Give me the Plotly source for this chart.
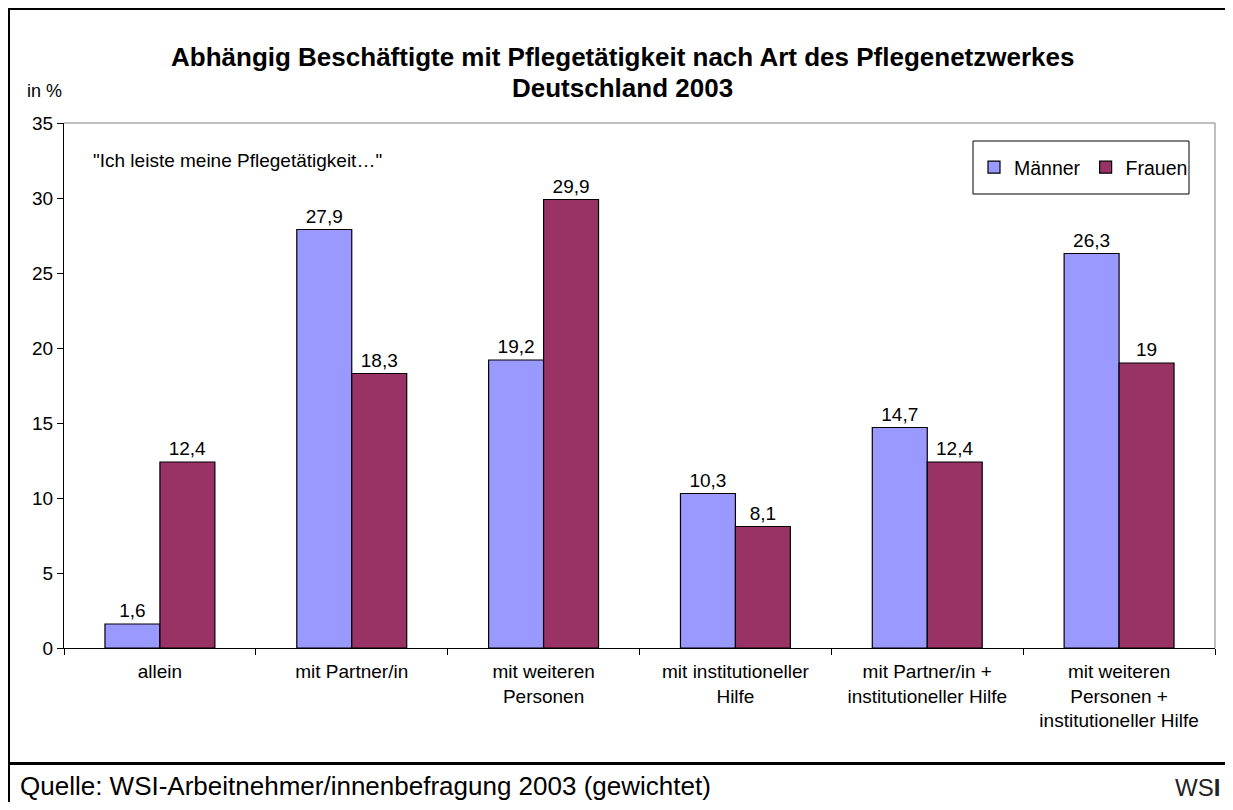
import plotly.graph_objects as go

categories = ["allein", "mit Partner/in", "mit weiteren<br>Personen", "mit institutioneller<br>Hilfe",
              "mit Partner/in +<br>institutioneller Hilfe", "mit weiteren<br>Personen +<br>institutioneller Hilfe"]
maenner = [1.6, 27.9, 19.2, 10.3, 14.7, 26.3]
frauen = [12.4, 18.3, 29.9, 8.1, 12.4, 19.0]
y_ticks = [0, 5, 10, 15, 20, 25, 30, 35]

# page coordinates (browser adds an 8px body margin)
OFF = 8
W, H = 1233 - 2 * OFF, 810 - 2 * OFF
L, R, T, B = 64, 1215, 123, 648
PW, PH = R - L, B - T

def px(X):
    return (X - L) / PW

def py(Y):
    return (B - Y) / PH

def fmt(v):
    return f"{v:g}".replace(".", ",")

FONT = "Liberation Sans, Arial, sans-serif"

fig = go.Figure()
fig.add_trace(go.Bar(name="Männer", x=categories, y=maenner, text=[fmt(v) for v in maenner],
                     textposition="outside", cliponaxis=False,
                     marker=dict(color="#9999FF", line=dict(color="black", width=1.2))))
fig.add_trace(go.Bar(name="Frauen", x=categories, y=frauen, text=[fmt(v) for v in frauen],
                     textposition="outside", cliponaxis=False,
                     marker=dict(color="#993366", line=dict(color="black", width=1.2))))

fig.update_traces(textfont=dict(size=19, color="black", family=FONT))

fig.update_layout(
    width=W, height=H,
    margin=dict(l=L - OFF, r=(W + OFF) - R, t=T - OFF, b=(H + OFF) - B, pad=0),
    paper_bgcolor="white", plot_bgcolor="white",
    font=dict(family=FONT, color="black"),
    barmode="group", bargap=0.427, bargroupgap=0,
    showlegend=True,
    legend=dict(orientation="h", x=px(974), y=py(167.5), xanchor="left", yanchor="middle",
                borderwidth=0, bgcolor="rgba(0,0,0,0)",
                font=dict(size=19.5, color="black"), itemwidth=30, tracegroupgap=0),
    xaxis=dict(showgrid=False, showline=True, linecolor="black", linewidth=1,
               ticks="outside", tickson="boundaries", ticklen=6, tickcolor="black",
               tickfont=dict(size=19, color="black"), ticklabelstandoff=6),
    yaxis=dict(range=[0, 35], tickvals=y_ticks, showgrid=False, showline=True,
               linecolor="black", linewidth=1, ticks="outside", ticklen=6, tickcolor="black",
               tickfont=dict(size=19, color="black"), zeroline=False),
)

shapes = [
    # plot area gray top & right border
    dict(type="line", xref="paper", yref="paper", x0=0, x1=1, y0=1, y1=1, line=dict(color="#808080", width=1)),
    dict(type="line", xref="paper", yref="paper", x0=1, x1=1, y0=0, y1=1, line=dict(color="#808080", width=1)),
    # legend box
    dict(type="rect", xref="paper", yref="paper", x0=px(973), x1=px(1189), y0=py(194), y1=py(141),
         line=dict(color="black", width=1), fillcolor="white", layer="below"),
    # outer frame
    dict(type="line", xref="paper", yref="paper", x0=px(7), x1=px(1240), y0=py(8.5), y1=py(8.5), line=dict(color="black", width=3)),
    dict(type="line", xref="paper", yref="paper", x0=px(8.5), x1=px(8.5), y0=py(7), y1=py(815), line=dict(color="black", width=3)),
    dict(type="line", xref="paper", yref="paper", x0=px(7), x1=px(1240), y0=py(763.5), y1=py(763.5), line=dict(color="black", width=3)),
]
fig.update_layout(shapes=shapes)

ann = [
    dict(text="<b>Abhängig Beschäftigte mit Pflegetätigkeit nach Art des Pflegenetzwerkes</b>",
         x=px(622), y=py(57), font=dict(size=26)),
    dict(text="<b>Deutschland 2003</b>", x=px(622), y=py(88), font=dict(size=26)),
    dict(text="in %", x=px(25), y=py(91), xanchor="left", font=dict(size=18)),
    dict(text="\"Ich leiste meine Pflegetätigkeit…\"", x=px(91), y=py(160), xanchor="left", font=dict(size=19)),
    dict(text="Quelle: WSI-Arbeitnehmer/innenbefragung 2003 (gewichtet)", x=px(18), y=py(786),
         xanchor="left", font=dict(size=26)),
    dict(text="WS<b>I</b>", x=px(1222), y=py(787), xanchor="right", font=dict(size=24, color="#222222")),
]
for a in ann:
    a.setdefault("xanchor", "center")
    fig.add_annotation(xref="paper", yref="paper", showarrow=False, yanchor="middle",
                       font_family=FONT, **a)

fig.write_html("out.html")
